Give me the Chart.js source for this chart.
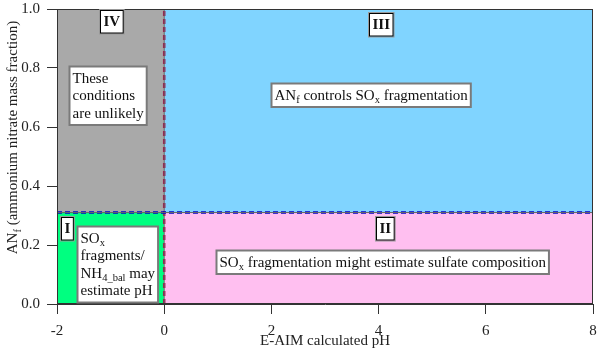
<!DOCTYPE html>
<html><head><meta charset="utf-8">
<script src="https://cdn.jsdelivr.net/npm/chart.js@4/dist/chart.umd.min.js"></script>
<style>html,body{margin:0;padding:0;background:#fff}canvas{display:block}</style>
</head><body>
<canvas id="c" width="600" height="363"></canvas>
<script>
// ---- data ----
const xTicks = [-2, 0, 2, 4, 6, 8];
const yTicks = [0.0, 0.2, 0.4, 0.6, 0.8, 1.0];
const phBoundary = 0;
const anfBoundary = 0.31;
const regionIds = ['I', 'II', 'III', 'IV'];
const regionPhMin = [-2, 0, 0, -2];
const regionPhMax = [0, 8, 8, 0];
const regionAnfMin = [0, 0, 0.31, 0.31];
const regionAnfMax = [0.31, 0.31, 1, 1];
const xTitle = 'E-AIM calculated pH';
const yTitle = 'AN_{f} (ammonium nitrate mass fraction)';
const labelTexts = [
  ['IV'], ['III'], ['I'], ['II'],
  ['These', 'conditions', 'are unlikely'],
  ['AN_{f} controls SO_{x} fragmentation'],
  ['SO_{x}', 'fragments/', 'NH_{4_bal} may', 'estimate pH'],
  ['SO_{x} fragmentation might estimate sulfate composition']
];
const labelPh  = [-0.99, 4.04, -1.82, 4.11, -1.05, 3.85, -0.884, 4.07];
const labelAnf = [0.957, 0.950, 0.257, 0.258, 0.709, 0.709, 0.136, 0.142];

// ---- styles ----
const regionColors = { I: '#00FF80', II: '#FFBFF0', III: '#80D4FF', IV: '#A9A9A9' };
const FONT = '"Liberation Serif", "Times New Roman", serif';
const FS = 15, SUB = 10.5;

function parseRich(s) {
  const out = []; const re = /_\{([^}]*)\}/g; let last = 0, m;
  while ((m = re.exec(s))) {
    if (m.index > last) out.push({ t: s.slice(last, m.index), sub: false });
    out.push({ t: m[1], sub: true }); last = re.lastIndex;
  }
  if (last < s.length) out.push({ t: s.slice(last), sub: false });
  return out;
}
function richWidth(ctx, s, bold) {
  let w = 0;
  for (const seg of parseRich(s)) {
    ctx.font = (bold ? 'bold ' : '') + (seg.sub ? SUB : FS) + 'px ' + FONT;
    w += ctx.measureText(seg.t).width;
  }
  return w;
}
function drawRich(ctx, s, x, base, bold) {
  for (const seg of parseRich(s)) {
    ctx.font = (bold ? 'bold ' : '') + (seg.sub ? SUB : FS) + 'px ' + FONT;
    ctx.fillText(seg.t, x, base + (seg.sub ? 3.5 : 0));
    x += ctx.measureText(seg.t).width;
  }
}

const regionPlugin = {
  id: 'regions',
  beforeDatasetsDraw(chart) {
    const { ctx, scales: { x, y } } = chart;
    ctx.save();
    regionIds.forEach((id, i) => {
      const x0 = x.getPixelForValue(regionPhMin[i]), x1 = x.getPixelForValue(regionPhMax[i]);
      const y0 = y.getPixelForValue(regionAnfMax[i]), y1 = y.getPixelForValue(regionAnfMin[i]);
      ctx.fillStyle = regionColors[id];
      ctx.fillRect(x0, y0, x1 - x0, y1 - y0);
    });
    ctx.restore();
  },
  afterDatasetsDraw(chart) {
    const { ctx, chartArea: a, scales: { x, y } } = chart;
    ctx.save();
    // frame
    ctx.strokeStyle = '#333'; ctx.lineWidth = 1;
    ctx.strokeRect(a.left + 0.5, a.top + 0.5, a.right - a.left - 1, a.bottom - a.top - 1);
    // labels
    ctx.textBaseline = 'alphabetic'; ctx.textAlign = 'left';
    labelTexts.forEach((lines, i) => {
      const isId = lines.length === 1 && /^[IV]+$/.test(lines[0]);
      const lh = 17.5, padX = 3, padY = isId ? 2.5 : 3;
      let w = 0; lines.forEach(l => w = Math.max(w, richWidth(ctx, l, isId)));
      const bw = w + 2 * padX, bh = lines.length * lh + 2 * padY;
      const cx = x.getPixelForValue(labelPh[i]), cy = y.getPixelForValue(labelAnf[i]);
      const bx = Math.round(cx - bw / 2) + 0.5, by = Math.round(cy - bh / 2) + 0.5;
      ctx.fillStyle = '#fff';
      ctx.fillRect(bx, by, bw, bh);
      if (isId) {
        ctx.strokeStyle = '#999'; ctx.lineWidth = 1;
        ctx.strokeRect(bx - 1, by - 1, bw + 2, bh + 2);
        ctx.strokeStyle = '#000';
        ctx.strokeRect(bx, by, bw, bh);
      } else {
        ctx.strokeStyle = '#7a7a7a'; ctx.lineWidth = 2;
        ctx.strokeRect(bx, by, bw, bh);
      }
      ctx.fillStyle = '#111';
      lines.forEach((l, k) => drawRich(ctx, l, bx + padX, by + padY + k * lh + 13, isId));
    });
    // y title (with subscript)
    ctx.translate(12, 137.5);
    ctx.rotate(-Math.PI / 2);
    const tw = richWidth(ctx, yTitle, false);
    ctx.fillStyle = '#222';
    drawRich(ctx, yTitle, -tw / 2, 5, false);
    ctx.restore();
  }
};

const hLine = [{ x: xTicks[0], y: anfBoundary }, { x: xTicks[xTicks.length - 1], y: anfBoundary }];
const vLine = [{ x: phBoundary, y: yTicks[0] }, { x: phBoundary, y: yTicks[yTicks.length - 1] }];

new Chart(document.getElementById('c'), {
  type: 'scatter',
  data: {
    datasets: [
      { data: hLine, showLine: true, borderColor: '#666', borderWidth: 1, pointRadius: 0 },
      { data: hLine, showLine: true, borderColor: '#0000CC', borderWidth: 2.5, borderDash: [5, 3], pointRadius: 0 },
      { data: vLine, showLine: true, borderColor: '#666', borderWidth: 1, pointRadius: 0 },
      { data: vLine, showLine: true, borderColor: '#A8104A', borderWidth: 2.5, borderDash: [5, 3], pointRadius: 0 }
    ]
  },
  options: {
    responsive: false, animation: false,
    layout: { padding: { top: 9, right: 7, left: 0, bottom: 0 } },
    plugins: { legend: { display: false }, tooltip: { enabled: false } },
    scales: {
      x: {
        type: 'linear', min: xTicks[0], max: xTicks[xTicks.length - 1],
        afterBuildTicks: s => { s.ticks = xTicks.map(v => ({ value: v })); },
        afterFit: s => { s.height = 59; s.paddingLeft = 0; s.paddingRight = 0; },
        ticks: { color: '#222', font: { family: FONT, size: FS }, padding: 8, maxRotation: 0 },
        grid: { drawOnChartArea: false, drawTicks: true, tickLength: 10, color: '#333' },
        border: { display: true, color: '#333' },
        title: { display: true, text: xTitle, color: '#222', font: { family: FONT, size: FS }, padding: { top: 0, bottom: 13 } }
      },
      y: {
        type: 'linear', min: yTicks[0], max: yTicks[yTicks.length - 1],
        afterBuildTicks: s => { s.ticks = yTicks.map(v => ({ value: v })); },
        afterFit: s => { s.width = 57; s.paddingTop = 0; s.paddingBottom = 0; },
        ticks: { color: '#222', font: { family: FONT, size: FS }, padding: 7, callback: v => v.toFixed(1) },
        grid: { drawOnChartArea: false, drawTicks: true, tickLength: 10, color: '#333' },
        border: { display: true, color: '#333' },
        title: { display: false }
      }
    }
  },
  plugins: [regionPlugin]
});
</script>
</body></html>
